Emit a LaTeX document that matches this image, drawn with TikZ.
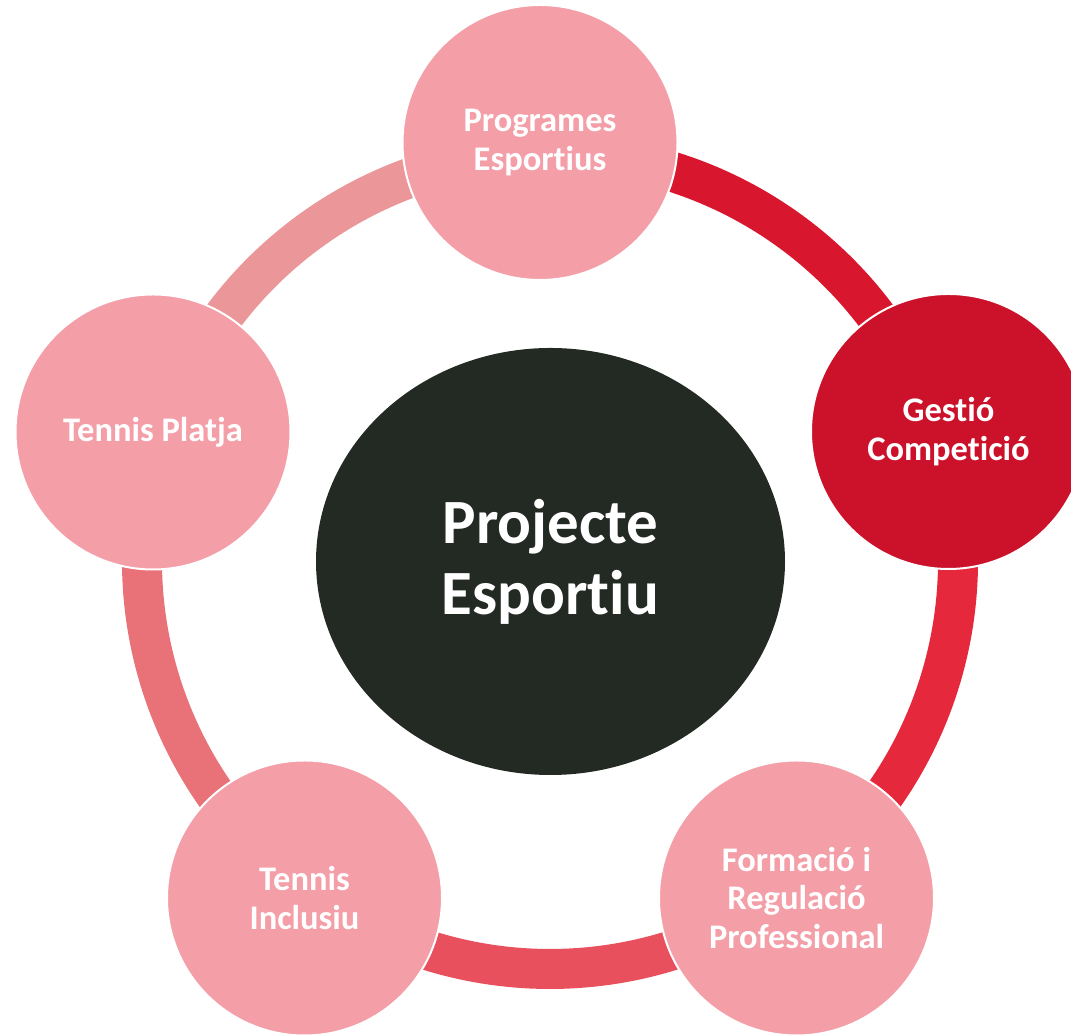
\documentclass[tikz,border=0pt]{standalone}
\usepackage{fontspec}
\setmainfont{Carlito}[Ligatures=NoCommon]
\usetikzlibrary{calc,shapes.geometric}
\definecolor{pinkc}{HTML}{F49EA8}
\definecolor{redc}{HTML}{CC122A}
\definecolor{corec}{HTML}{232923}
\definecolor{arcA}{HTML}{D8162E}
\definecolor{arcB}{HTML}{E6283C}
\definecolor{arcC}{HTML}{E8505E}
\definecolor{arcD}{HTML}{E97279}
\definecolor{arcE}{HTML}{EB9699}
\begin{document}
\begin{tikzpicture}[x=1pt,y=1pt,
  sat/.style={circle,draw=white,line width=2pt,fill=pinkc,minimum size=275pt,inner sep=0pt,
    text=white,align=center,font=\fontsize{34.5}{38.5}\selectfont\bfseries},
  band/.style={line width=40pt},
  core/.style={ellipse,fill=corec,minimum width=469pt,minimum height=427pt,inner sep=0pt,
    text=white,align=center,font=\fontsize{63}{71}\selectfont\bfseries}]
\useasboundingbox (0,0) rectangle (1071,1035);
\clip (0,0) rectangle (1071,1035);
\coordinate (ring) at (550,474);
% ring segments
\draw[band,arcA] ($(ring)+(91.4:408)$) arc[start angle=91.4,end angle=18,radius=408];
\draw[band,arcB] ($(ring)+(18:408)$) arc[start angle=18,end angle=-53.8,radius=408];
\draw[band,arcC] ($(ring)+(-53.8:408)$) arc[start angle=-53.8,end angle=-126.1,radius=408];
\draw[band,arcD] ($(ring)+(-126.1:408)$) arc[start angle=-126.1,end angle=-198,radius=408];
\draw[band,arcE] ($(ring)+(162:408)$) arc[start angle=162,end angle=91.4,radius=408];
% centre
\node[core] (proj) at (550.5,473.5) {Projecte\\Esportiu};
% satellites
\node[sat] (prog) at (540,892.5) {Programes\\Esportius};
\node[sat,fill=redc] (gest) at (948.5,603.5) {Gestió\\Competició};
\node[sat] (form) at (796.5,137) {Formació i\\Regulació\\Professional};
\node[sat] (incl) at (304.5,137) {Tennis\\Inclusiu};
\node[sat] (plat) at (153,603) {Tennis Platja};
\end{tikzpicture}
\end{document}
